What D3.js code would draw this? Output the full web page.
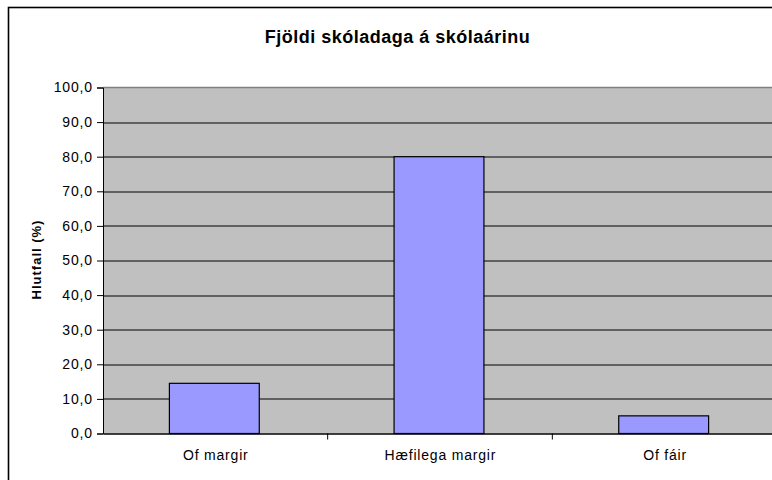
<!DOCTYPE html>
<html>
<head>
<meta charset="utf-8">
<script src="https://cdn.jsdelivr.net/npm/d3@7"></script>
<style>
    body { margin: 0; background: #fff; overflow: hidden; }
    svg { display: block; font-family: "Liberation Sans", Arial, sans-serif; }
</style>
</head>
<body>
<div id="chart"></div>
<script>
var categories = ['Of margir', 'Hæfilega margir', 'Of fáir'];
var values = [14.5, 80.0, 5.1];
var yTicks = [0, 10, 20, 30, 40, 50, 60, 70, 80, 90, 100];

var width = 772, height = 480;
var margin = { left: 103, top: 87.5, right: -5, bottom: 46.5 };
var innerW = width - margin.left - margin.right;
var innerH = height - margin.top - margin.bottom;
var fmt = d3.format('.1f');

var svg = d3.select('#chart')
    .append('svg')
    .attr('width', width)
    .attr('height', height);

// outer frame, runs off the right and bottom edge like the original
svg.append('rect')
    .attr('x', 8.5).attr('y', 7.5)
    .attr('width', 800).attr('height', 500)
    .style('fill', 'none')
    .style('stroke', '#000')
    .style('stroke-width', 1.6);

svg.append('text')
    .attr('x', 397.5).attr('y', 42.5)
    .attr('text-anchor', 'middle')
    .style('font-size', '18px')
    .style('font-weight', 'bold')
    .style('letter-spacing', '0.5px')
    .text('Fjöldi skóladaga á skólaárinu');

var canvas = svg.append('g')
    .attr('transform', 'translate(' + [margin.left, margin.top] + ')');

var x = d3.scaleBand()
    .domain(categories)
    .range([0, innerW])
    .paddingInner(0.6)
    .paddingOuter(0.3);

var band = d3.scaleBand().domain(categories).range([0, innerW]);

var y = d3.scaleLinear().domain([0, 100]).range([innerH, 0]);

canvas.append('rect')
    .attr('width', innerW).attr('height', innerH)
    .style('fill', '#c0c0c0');

canvas.append('line')
    .attr('x1', 0).attr('x2', innerW)
    .attr('y1', 0).attr('y2', 0)
    .style('stroke', '#808080')
    .style('stroke-width', 1.5);

canvas.selectAll('line.grid')
    .data(yTicks.filter(d => d > 0 && d < 100))
    .enter()
    .append('line')
    .attr('class', 'grid')
    .attr('x1', 0).attr('x2', innerW)
    .attr('y1', d => Math.round(y(d)) + 0.5)
    .attr('y2', d => Math.round(y(d)) + 0.5)
    .style('stroke', '#000')
    .style('stroke-width', 1);

canvas.selectAll('rect.bar')
    .data(values)
    .enter()
    .append('rect')
    .attr('class', 'bar')
    .attr('x', (d, i) => x(categories[i]) - 1)
    .attr('y', d => y(d))
    .attr('width', x.bandwidth())
    .attr('height', d => innerH - y(d))
    .style('fill', '#9999ff')
    .style('stroke', '#000')
    .style('stroke-width', 1.2);

var yAxis = canvas.append('g')
    .call(d3.axisLeft(y).tickValues(yTicks).tickFormat(d => fmt(d).replace('.', ',')).tickSize(6).tickPadding(5));
yAxis.selectAll('text')
    .attr('dx', 0.8)
    .style('font-size', '14px')
    .style('letter-spacing', '0.8px')
    .style('fill', '#000');
yAxis.selectAll('line, path').style('stroke', '#000');

var xAxis = canvas.append('g')
    .attr('transform', 'translate(0,' + innerH + ')')
    .call(d3.axisBottom(band).tickSize(0).tickPadding(17));
xAxis.selectAll('text')
    .attr('dx', 0.4)
    .style('font-size', '14px')
    .style('letter-spacing', '0.8px')
    .style('fill', '#000');
xAxis.select('path').style('stroke', '#000').style('stroke-width', 1.5);

canvas.selectAll('line.xtick')
    .data(categories.slice(1))
    .enter()
    .append('line')
    .attr('class', 'xtick')
    .attr('x1', d => band(d)).attr('x2', d => band(d))
    .attr('y1', innerH).attr('y2', innerH + 6)
    .style('stroke', '#000');

svg.append('text')
    .attr('transform', 'translate(41,' + (260 - 0.5) + ') rotate(-90)')
    .attr('text-anchor', 'middle')
    .style('font-size', '13px')
    .style('font-weight', 'bold')
    .style('letter-spacing', '1px')
    .text('Hlutfall (%)');
</script>
</body>
</html>
